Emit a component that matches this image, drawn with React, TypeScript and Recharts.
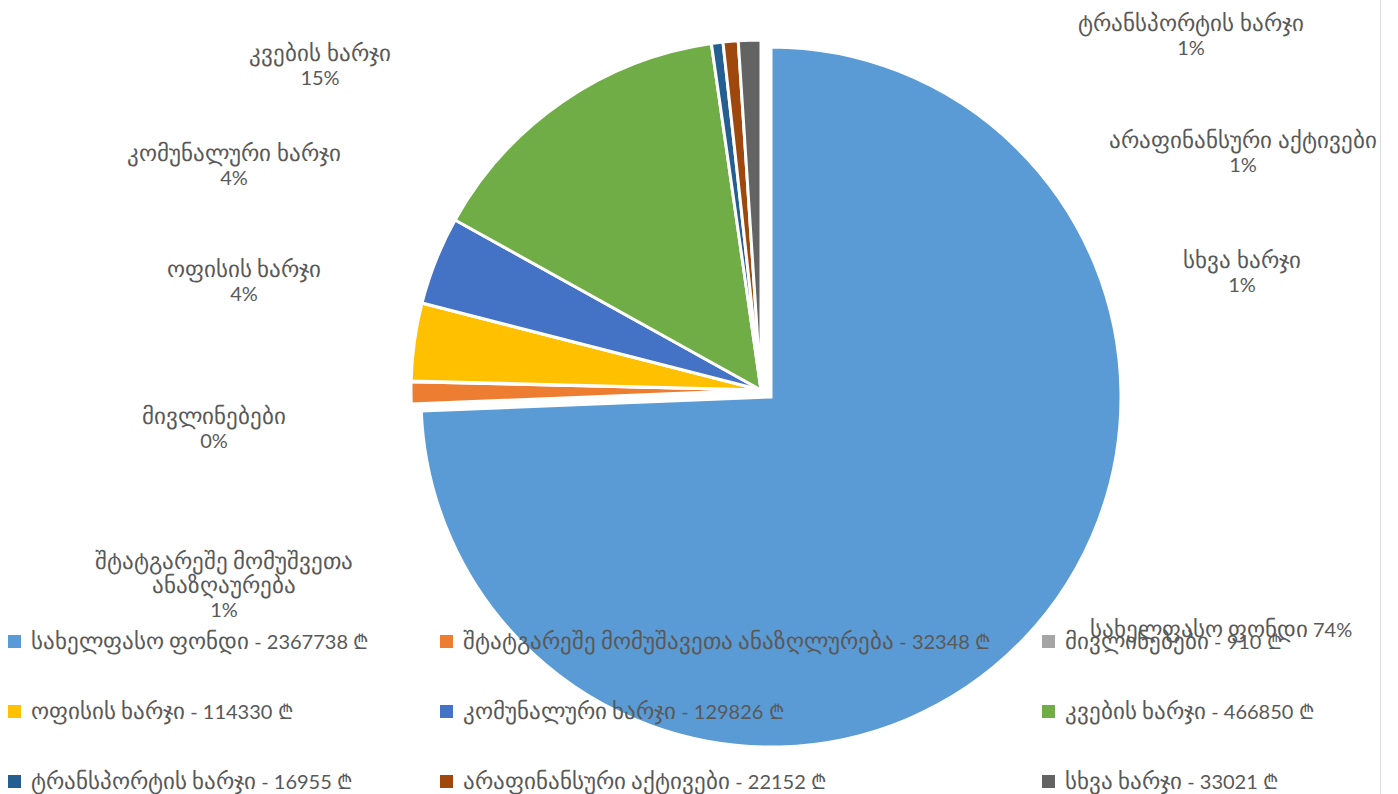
import { PieChart, Pie, Cell, Legend } from "recharts";

const categories = [
  "სახელფასო ფონდი",
  "შტატგარეშე მომუშავეთა ანაზღლურება",
  "მივლინებები",
  "ოფისის ხარჯი",
  "კომუნალური ხარჯი",
  "კვების ხარჯი",
  "ტრანსპორტის ხარჯი",
  "არაფინანსური აქტივები",
  "სხვა ხარჯი",
];
const amounts = [2367738, 32348, 910, 114330, 129826, 466850, 16955, 22152, 33021];
// data label text as it appears on the chart (slightly different wording, line breaks)
const labelNames = [
  ["სახელფასო ფონდი"],
  ["შტატგარეშე მომუშვეთა", "ანაზღაურება"],
  ["მივლინებები"],
  ["ოფისის ხარჯი"],
  ["კომუნალური ხარჯი"],
  ["კვების ხარჯი"],
  ["ტრანსპორტის ხარჯი"],
  ["არაფინანსური აქტივები"],
  ["სხვა ხარჯი"],
];

const colors = ["#5B9BD5", "#ED7D31", "#A5A5A5", "#FFC000", "#4472C4", "#70AD47", "#255E91", "#9E480E", "#636363"];
// manually placed label anchors (center x, first baseline)
const labelAt = [
  [1221, 637],
  [224, 569],
  [214, 424],
  [244, 277],
  [234, 161],
  [320, 61],
  [1191, 31],
  [1243, 148],
  [1242, 268],
];

const data = categories.map((name, i) => ({ name, value: amounts[i] }));
const font = "GeoWide, Lato, 'DejaVu Sans', sans-serif";
const textColor = "#595959";

// Georgian glyphs in the original font are noticeably larger than DejaVu's
const fontCss = `
@font-face {
  font-family: "GeoWide";
  src: local("DejaVu Sans");
  unicode-range: U+10A0-10FF, U+1C90-1CBF, U+2D00-2D2F;
  size-adjust: 117%;
}
`;

const renderLabel = (props: any) => {
  const i = props.index;
  const pct = `${Math.round(props.percent * 100)}%`;
  const [x, y] = labelAt[i];
  const lines = i === 0 ? [`${labelNames[i][0]} ${pct}`] : [...labelNames[i], pct];
  return (
    <text key={`lbl-${i}`} x={x} y={y} textAnchor="middle" fill={textColor} fontSize={20} fontFamily={font}>
      {lines.map((l, k) => (
        <tspan key={k} x={x} dy={k === 0 ? 0 : 24}>
          {l}
        </tspan>
      ))}
    </text>
  );
};

const LegendBox = () => (
  <div
    style={{
      position: "absolute",
      left: 8,
      top: 627,
      display: "grid",
      gridTemplateColumns: "432px 602px 340px",
      gridAutoRows: "70px",
      fontFamily: font,
      fontSize: 20,
      color: textColor,
    }}
  >
    {categories.map((c, i) => (
      <div key={c} style={{ display: "flex", alignItems: "center", height: 28, whiteSpace: "nowrap" }}>
        <span style={{ width: 13, height: 13, background: colors[i], marginRight: 10, flex: "none" }} />
        <span>{`${c} - ${amounts[i]} ₾`}</span>
      </div>
    ))}
  </div>
);

export default function App() {
  return (
    <div style={{ position: "absolute", left: 0, top: 0, width: 1398, height: 794, background: "#fff" }}>
      <style>{fontCss}</style>
      <PieChart
        width={1398}
        height={794}
        margin={{ top: 0, right: 0, bottom: 0, left: 0 }}
        style={{ position: "absolute", left: 0, top: 0 }}
      >
        <Pie
          data={data}
          dataKey="value"
          cx={771}
          cy={397}
          outerRadius={350}
          startAngle={90}
          endAngle={-270}
          stroke="#fff"
          strokeWidth={3}
          label={false}
          labelLine={false}
          isAnimationActive={false}
        >
          {data.map((d, i) => (
            <Cell key={d.name} fill={i === 0 ? colors[0] : "none"} stroke={i === 0 ? "#fff" : "none"} />
          ))}
        </Pie>
        <Pie
          data={data}
          dataKey="value"
          cx={761}
          cy={390}
          outerRadius={350}
          startAngle={90}
          endAngle={-270}
          stroke="#fff"
          strokeWidth={3}
          label={renderLabel}
          labelLine={false}
          isAnimationActive={false}
        >
          {data.map((d, i) => (
            <Cell key={d.name} fill={i === 0 ? "none" : colors[i]} stroke={i === 0 ? "none" : "#fff"} />
          ))}
        </Pie>
        <Legend content={() => <LegendBox />} wrapperStyle={{ position: "absolute", left: 0, top: 0, width: 1398, height: 794 }} />
      </PieChart>
      <div style={{ position: "absolute", left: 1380, top: 0, width: 1, height: 794, background: "#D9D9D9" }} />
    </div>
  );
}
